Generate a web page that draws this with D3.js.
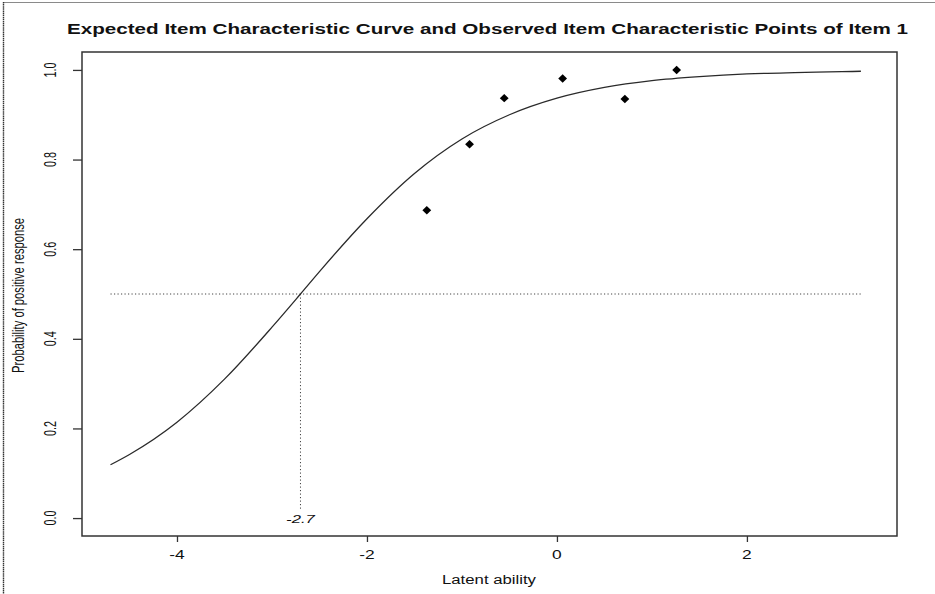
<!DOCTYPE html>
<html>
<head>
<meta charset="utf-8">
<script src="https://cdn.jsdelivr.net/npm/d3@7"></script>
<style>
  html, body { margin: 0; padding: 0; background: #fff; }
  svg { display: block; font-family: "Liberation Sans", Arial, sans-serif; }
</style>
</head>
<body>
<svg id="chart" width="935" height="594"></svg>
<script>
// Expected item characteristic curve (latent ability vs. probability)
const curveTheta = [-4.7, -4.5, -4.0, -3.5, -3.0, -2.7, -2.5, -2.0, -1.5, -1.0, -0.5, 0.0, 0.5, 1.0, 1.5, 2.0, 2.5, 3.0, 3.2];
const curveProb  = [0.119, 0.142, 0.214, 0.310, 0.426, 0.500, 0.550, 0.668, 0.769, 0.846, 0.900, 0.937, 0.961, 0.976, 0.985, 0.991, 0.994, 0.996, 0.997];

// Observed item characteristic points
const obsTheta = [-1.37, -0.92, -0.555, 0.06, 0.715, 1.26];
const obsProb  = [0.687, 0.834, 0.937, 0.981, 0.935, 1.0];

// Item difficulty (ability at which P = 0.5)
const difficulty = -2.7;
const halfProb = 0.5;

const xTicks = [-4, -2, 0, 2];
const yTicks = [0.0, 0.2, 0.4, 0.6, 0.8, 1.0];
const yTickLabels = ["0.0", "0.2", "0.4", "0.6", "0.8", "1.0"];

const titleText = "Expected Item Characteristic Curve and Observed Item Characteristic Points of Item 1";
const xLabel = "Latent ability";
const yLabel = "Probability of positive response";

const svg = d3.select("#chart");
const box = { left: 82, right: 897, top: 52, bottom: 536 };
const SX = 1.45; // horizontal stretch of the text glyphs

const x = d3.scaleLinear().domain([-5.0, 3.58]).range([box.left, box.right]);
const y = d3.scaleLinear().domain([-0.04, 1.04]).range([box.bottom, box.top]);

// outer frame lines
svg.append("line").attr("x1", 3).attr("x2", 935).attr("y1", 2.5).attr("y2", 2.5)
  .attr("stroke", "#8a8a8a").attr("stroke-width", 1.2);
svg.append("line").attr("x1", 3.5).attr("x2", 3.5).attr("y1", 2).attr("y2", 594)
  .attr("stroke", "#333").attr("stroke-width", 1.4).attr("stroke-dasharray", "1.5,0.6");

// title
svg.append("text")
  .attr("x", 67).attr("y", 33.5)
  .attr("font-size", 14.5).attr("font-weight", "bold").attr("fill", "#111")
  .attr("textLength", 841).attr("lengthAdjust", "spacingAndGlyphs")
  .text(titleText);

// reference lines at P = 0.5 and at the difficulty
const cx0 = d3.min(curveTheta), cx1 = d3.max(curveTheta);
svg.append("line")
  .attr("x1", x(cx0)).attr("x2", x(cx1)).attr("y1", y(halfProb)).attr("y2", y(halfProb))
  .attr("stroke", "#444").attr("stroke-width", 1).attr("stroke-dasharray", "1.2,2.3");
svg.append("line")
  .attr("x1", x(difficulty)).attr("x2", x(difficulty)).attr("y1", y(halfProb)).attr("y2", y(0.017))
  .attr("stroke", "#444").attr("stroke-width", 1).attr("stroke-dasharray", "1.2,2.3");

// curve
const curveData = curveTheta.map((t, i) => [t, curveProb[i]]);
svg.append("path")
  .datum(curveData)
  .attr("fill", "none").attr("stroke", "#2a2a2a").attr("stroke-width", 1.3)
  .attr("d", d3.line().x(d => x(d[0])).y(d => y(d[1])).curve(d3.curveMonotoneX));

// observed points (filled diamonds)
const diamond = d3.symbol().type(d3.symbolDiamond).size(32);
svg.selectAll("path.obs")
  .data(obsTheta.map((t, i) => [t, obsProb[i]]))
  .join("path")
  .attr("class", "obs")
  .attr("d", diamond)
  .attr("transform", d => `translate(${x(d[0])},${y(d[1])}) scale(1.45,0.8)`)
  .attr("fill", "#000");

// difficulty label
svg.append("text")
  .attr("transform", `translate(${x(difficulty)},${y(0) + 4.5}) scale(${SX},1)`)
  .attr("text-anchor", "middle").attr("font-size", 11.5).attr("font-style", "italic")
  .attr("fill", "#111").text(String(difficulty));

// plot box
svg.append("rect")
  .attr("x", box.left).attr("y", box.top)
  .attr("width", box.right - box.left).attr("height", box.bottom - box.top)
  .attr("fill", "none").attr("stroke", "#333").attr("stroke-width", 1.5);

// x axis
const xAxis = svg.append("g").attr("transform", `translate(0,${box.bottom})`)
  .call(d3.axisBottom(x).tickValues(xTicks).tickSize(6).tickFormat(""));
xAxis.select(".domain").remove();
xAxis.selectAll(".tick line").attr("stroke", "#333").attr("stroke-width", 1.3);
xTicks.forEach(t => {
  svg.append("text")
    .attr("transform", `translate(${x(t)},558.5) scale(${SX},1)`)
    .attr("text-anchor", "middle").attr("font-size", 12).attr("fill", "#111")
    .text(String(t));
});

// y axis
const yAxis = svg.append("g").attr("transform", `translate(${box.left},0)`)
  .call(d3.axisLeft(y).tickValues(yTicks).tickSize(9).tickFormat(""));
yAxis.select(".domain").remove();
yAxis.selectAll(".tick line").attr("stroke", "#333").attr("stroke-width", 1.3);
yTicks.forEach((t, i) => {
  svg.append("text")
    .attr("transform", `translate(55.5,${y(t)}) rotate(-90) scale(1,${SX})`)
    .attr("text-anchor", "middle").attr("font-size", 10.8).attr("fill", "#111")
    .text(yTickLabels[i]);
});

// axis titles
svg.append("text")
  .attr("x", 489 - 47).attr("y", 584)
  .attr("font-size", 12).attr("fill", "#111")
  .attr("textLength", 94).attr("lengthAdjust", "spacingAndGlyphs")
  .text(xLabel);

svg.append("g")
  .attr("transform", `translate(23.5,${295.5}) rotate(-90) scale(1,${SX})`)
  .append("text")
  .attr("x", -77.5).attr("y", 0)
  .attr("font-size", 10.8).attr("fill", "#111")
  .attr("textLength", 155).attr("lengthAdjust", "spacingAndGlyphs")
  .text(yLabel);
</script>
</body>
</html>
